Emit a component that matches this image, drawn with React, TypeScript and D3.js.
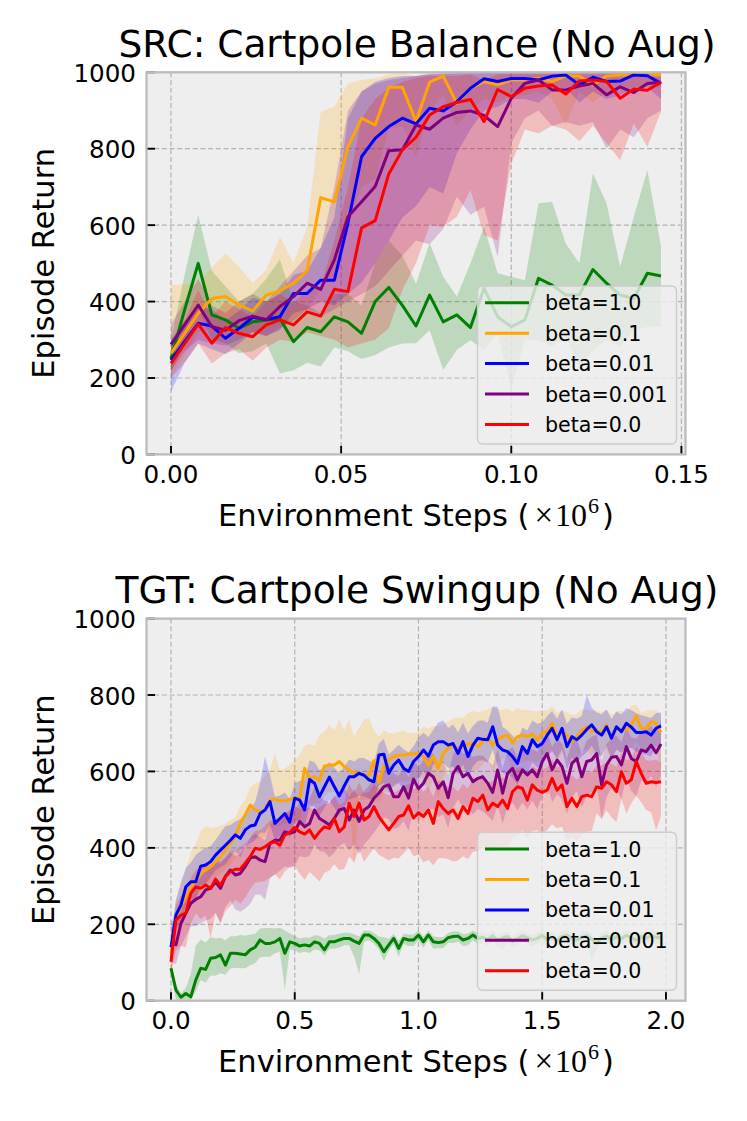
import React from 'react';
import * as d3 from 'd3';

// ---------- series meta ----------
const LABELS = ['beta=1.0', 'beta=0.1', 'beta=0.01', 'beta=0.001', 'beta=0.0'];
const COLORS = ['green', 'orange', 'blue', 'purple', 'red'];

// ---------- SRC: Cartpole Balance (eval every 0.004 x10^6 steps) ----------
const SRC_EVAL_EVERY = 0.004;
const SRC_MEAN_G = [251,378,500,365,352,330,347,352,356,295,332,321,360,347,317,400,437,390,336,417,347,365,332,435,360,334,352,461,443,417,417,484,448,417,408,474,467];
const SRC_LO_G = [215,290,380,300,290,265,270,290,212,220,240,230,280,270,250,260,280,290,291,325,221,273,299,273,317,168,299,299,282,308,229,273,299,282,325,334,334];
const SRC_HI_G = [300,470,627,480,440,400,420,460,510,400,390,370,420,420,390,500,560,520,447,553,465,413,500,596,474,465,456,657,661,552,500,736,657,491,622,744,544];

const SRC_MEAN_O = [264,317,369,408,413,391,375,417,428,448,480,672,661,805,880,862,961,961,871,974,990,919,958,976,967,980,980,984,976,990,990,967,990,993,993,993,993];
const SRC_LO_O = [200,260,320,330,330,320,320,330,340,350,380,430,470,600,700,720,850,860,780,900,940,860,900,930,920,940,940,950,930,862,950,920,950,960,960,960,960];
const SRC_HI_O = [443,446,448,490,526,491,448,483,570,500,596,897,910,971,980,984,995,998,990,1000,1000,995,998,1000,1000,1000,1000,1000,1000,1000,1000,1000,1000,1000,1000,1000,1000];

const SRC_MEAN_B = [247,295,343,336,304,330,359,353,360,421,421,456,456,605,779,827,858,880,865,906,899,923,958,983,976,984,984,980,990,993,967,987,976,977,993,991,971];
const SRC_LO_B = [164,240,290,275,262,290,320,310,325,370,380,400,390,420,450,500,560,620,650,700,683,788,850,900,910,930,930,920,950,960,920,950,930,940,960,960,930];
const SRC_HI_B = [300,350,385,380,350,375,410,400,420,470,480,540,620,880,950,975,985,990,990,995,995,998,1000,1000,1000,1000,1000,1000,1000,1000,1000,1000,1000,1000,1000,1000,1000];

const SRC_MEAN_P = [288,339,391,334,325,350,362,352,387,413,448,432,509,622,661,701,795,797,862,851,880,895,899,887,858,932,971,980,954,954,964,971,941,962,947,971,974];
const SRC_LO_P = [220,270,300,290,285,300,320,310,330,350,380,360,380,400,420,440,480,520,560,550,590,674,627,648,517,814,880,900,860,870,860,870,800,850,830,880,900];
const SRC_HI_P = [340,400,460,390,370,400,420,400,440,480,520,540,700,900,950,970,980,985,990,995,998,998,998,998,998,998,998,998,998,998,998,998,998,998,998,998,998];

const SRC_MEAN_R = [238,290,341,291,332,317,308,339,352,339,373,362,432,426,593,612,734,797,830,888,910,921,929,871,955,936,958,964,967,943,977,980,976,932,956,953,974];
const SRC_LO_R = [200,240,290,238,265,275,245,280,300,295,320,310,300,280,290,300,330,430,500,600,596,622,692,574,560,760,850,840,860,850,820,860,814,770,866,805,897];
const SRC_HI_R = [290,350,430,360,400,380,360,400,420,395,430,440,560,700,880,930,960,975,985,990,990,990,995,980,995,995,995,995,995,995,995,995,995,995,995,995,995];

// ---------- TGT: Cartpole Swingup (eval every 0.02 x10^6 steps) ----------
const TGT_EVAL_EVERY = 0.02;
const TGT_MEAN_G = [85,28,9,19,10,54,85,82,111,113,120,93,124,124,122,120,133,140,159,150,150,154,163,124,154,150,143,146,143,154,150,133,154,154,159,163,163,156,150,172,172,163,150,128,146,163,137,163,159,159,172,
  154,172,154,152,154,165,168,169,159,163,172,163,
  166,160,170,158,164,168,155,162,170,165,159,163,171,160,166,157,168,172,163,158,166,170,161,150,164,169,160,167,162,171,165,158,168,163,170,166,164];
const TGT_HI_G = [15,15,10,15,60,90,75,70,55,50,45,65,45,45,50,50,40,35,30,40,40,35,28,60,22,20,20,20,22,18,20,30,18,18,16,15,15,18,18,12,12,14,18,38,16,12,20,12,14,14,12,
  14,12,15,14,13,12,14,12,15,13,12,14,12,13,15,12,14,13,12,15,14,12,13,15,12,14,13,12,15,14,12,13,15,12,14,13,12,15,14,12,13,15,12,14,13,12,15,14,12];
const TGT_LO_G = [20,25,9,15,8,30,31,35,45,48,48,25,40,38,37,35,40,42,45,35,35,30,35,95,20,18,18,18,18,20,18,15,18,18,20,18,18,40,80,18,14,14,16,25,14,15,22,14,16,16,14,
  16,14,18,15,16,14,17,15,16,18,14,16,15,17,14,16,30,15,17,14,16,15,18,14,16,15,17,14,16,18,14,16,15,17,60,16,15,18,14,16,15,17,14,16,18,15,14,16,17];

const TGT_MEAN_O = [124,211,246,272,298,311,333,342,351,364,377,394,412,429,464,486,512,499,494,499,525,527,523,523,527,530,530,608,582,586,576,614,617,617,626,613,604,595,595,590,590,628,571,613,630,639,643,643,645,646,647,
  639,617,639,608,647,661,669,656,665,673,673,665,678,687,669,683,691,695,675,691,695,691,698,683,700,704,726,689,704,695,678,691,707,717,704,709,700,722,687,713,709,709,722,745,713,713,730,726,702];
const TGT_HI_O = [40,50,60,70,90,100,110,115,100,90,80,70,60,50,45,40,45,70,80,90,80,120,80,85,90,100,115,60,90,80,120,90,105,90,110,95,131,96,120,145,150,80,120,95,70,60,60,65,55,55,55,
  80,95,80,110,75,70,70,85,75,80,85,90,80,75,100,80,70,70,80,75,65,70,60,75,60,55,45,65,55,60,70,60,55,45,55,50,55,40,60,45,50,45,50,30,40,45,30,35,45];
const TGT_LO_O = [30,40,40,40,40,40,45,40,40,40,45,50,55,55,60,70,80,75,70,70,75,70,65,60,60,65,60,90,70,70,60,80,70,70,75,70,70,244,70,65,60,100,50,70,75,75,70,70,70,70,60,
  60,70,60,80,60,60,55,65,60,70,70,60,60,55,70,60,60,55,80,70,70,65,70,60,60,65,70,60,55,60,70,60,55,60,60,55,60,65,60,55,60,55,60,70,55,60,55,60,100];

const TGT_MEAN_B = [140,224,250,298,311,311,352,355,364,381,394,407,420,434,425,447,457,460,490,499,521,464,477,490,467,530,525,499,579,569,534,560,585,560,536,562,586,586,595,590,578,573,643,645,595,617,630,608,600,626,639,
  656,640,669,678,678,669,673,647,678,639,669,687,684,683,717,669,656,652,639,621,665,647,683,665,673,695,713,683,713,665,691,683,695,710,722,704,695,717,687,717,704,726,716,702,702,704,695,713,719];
const TGT_HI_B = [40,40,60,50,50,70,40,45,40,40,45,50,40,35,50,40,45,60,80,140,70,70,60,55,60,40,50,80,50,55,70,50,40,50,60,50,45,40,40,45,50,50,30,40,50,40,40,50,50,40,50,
  45,50,40,50,55,45,50,55,50,60,50,45,50,45,53,100,60,55,55,60,50,60,50,60,55,50,45,55,50,60,50,55,50,90,45,50,55,45,50,40,45,40,45,50,45,40,45,40,35];
const TGT_LO_B = [40,40,40,50,45,50,50,50,40,40,45,50,45,40,50,45,45,40,50,60,60,45,45,50,40,60,55,45,70,60,50,55,60,55,50,55,60,55,60,55,50,50,80,75,50,55,60,55,50,60,60,
  55,60,50,55,55,60,60,55,60,60,55,60,55,60,60,55,60,60,55,55,60,55,60,55,60,55,60,50,55,60,55,60,55,60,55,60,55,50,55,60,55,60,55,50,55,60,55,50,55];

const TGT_MEAN_P = [150,146,202,229,255,265,272,290,294,311,294,325,342,329,333,351,373,377,368,364,412,420,420,442,438,442,469,455,464,499,477,469,460,477,499,503,473,499,469,499,508,530,543,560,565,534,534,560,530,580,555,
  569,595,586,556,573,531,595,613,586,595,573,582,586,569,545,604,543,595,608,578,604,591,604,586,626,647,604,630,613,569,621,634,586,626,630,647,565,617,637,639,617,665,634,626,656,652,669,649,672];
const TGT_HI_P = [60,60,50,50,50,45,50,55,60,60,70,50,45,50,50,50,55,60,60,55,50,50,55,50,55,60,50,60,65,60,60,55,60,55,50,55,60,55,60,50,55,50,45,50,55,60,55,50,55,50,55,
  60,55,60,65,55,60,50,55,60,55,65,60,55,60,70,55,65,60,55,60,55,60,55,65,50,55,60,55,60,65,55,50,60,55,60,50,65,55,50,55,60,50,55,60,50,55,50,55,60];
const TGT_LO_P = [50,50,60,60,60,70,70,80,80,80,90,80,80,90,100,110,120,100,90,100,90,90,80,90,90,90,90,80,85,90,85,80,85,90,95,90,80,90,85,90,85,90,85,80,90,85,80,90,85,80,85,
  80,90,85,75,85,80,90,85,80,90,85,80,90,85,75,90,80,85,90,80,85,90,80,85,90,80,85,90,85,80,90,85,80,90,85,80,90,85,80,85,90,80,85,90,80,85,80,90,85];

const TGT_MEAN_R = [102,211,224,229,281,298,294,303,294,318,303,325,338,344,344,360,377,399,396,403,412,416,407,434,440,454,442,436,447,425,442,455,451,477,442,455,517,482,517,473,482,508,482,464,447,464,482,486,510,478,492,
  482,499,464,521,503,490,499,477,508,490,530,521,538,499,517,508,525,503,547,560,556,525,565,551,545,551,582,551,565,508,530,508,534,538,534,560,556,573,565,547,599,569,578,626,595,569,573,571,573];
const TGT_HI_R = [30,40,50,50,40,45,50,60,55,50,55,50,55,50,60,55,50,45,50,55,60,55,60,55,60,55,60,65,60,70,65,60,65,60,70,65,50,60,55,70,65,60,70,80,90,80,70,70,60,75,70,
  65,60,70,55,65,70,60,70,60,65,55,60,55,70,60,65,60,70,55,50,55,60,50,55,60,60,50,60,55,70,60,70,60,60,65,55,60,50,55,65,50,60,55,40,55,60,55,60,50];
const TGT_LO_R = [30,80,80,90,80,70,80,80,130,90,100,90,90,80,90,90,85,90,85,90,90,85,90,95,90,100,110,120,110,100,130,120,110,120,100,110,140,120,120,110,100,110,100,90,80,90,110,100,110,100,110,
  120,130,110,148,130,120,135,110,130,120,140,130,135,110,125,115,120,110,120,130,110,100,120,105,110,104,120,100,110,90,100,90,100,95,90,70,80,75,85,80,70,80,61,90,75,70,80,125,90];

const Y_TICKS = [0, 200, 400, 600, 800, 1000];
const SRC_X_TICKS = [0, 0.05, 0.1, 0.15];
const TGT_X_TICKS = [0, 0.5, 1.0, 1.5, 2.0];

// ---------- layout ----------
const W = 747;
const H = 1121;
const LEFT = 146.5;
const RIGHT = 685.5;
const FONT = "'DejaVu Sans', 'Noto Sans', sans-serif";
const SERIF = "'Liberation Serif', 'DejaVu Serif', serif";

interface PanelProps {
  id: string;
  top: number;
  bottom: number;
  title: string;
  step: number;
  means: number[][];
  lows: number[][];
  highs: number[][];
  xTicks: number[];
  xFmt: (v: number) => string;
}

function Panel(p: PanelProps) {
  const n = p.means[0].length;
  const steps = d3.range(n).map((i) => i * p.step);
  const xMin = d3.min(steps) as number;
  const xMax = d3.max(steps) as number;
  const pad = (xMax - xMin) * 0.05;
  const x = d3.scaleLinear().domain([xMin - pad, xMax + pad]).range([LEFT, RIGHT]);
  const y = d3.scaleLinear().domain([0, 1000]).range([p.bottom, p.top]);
  const idx = d3.range(n);

  const line = (m: number[]) =>
    d3.line<number>().x((i) => x(steps[i])).y((i) => y(m[i]))(idx) || '';
  const area = (lo: number[], hi: number[]) =>
    d3.area<number>().x((i) => x(steps[i])).y0((i) => y(lo[i])).y1((i) => y(hi[i]))(idx) || '';

  const clipId = `clip-${p.id}`;
  const midX = (LEFT + RIGHT) / 2;
  const midY = (p.top + p.bottom) / 2;

  // legend geometry
  const legW = 199;
  const legH = 158;
  const legX = RIGHT - 9 - legW;
  const legY = p.bottom - 10.4 - legH;
  const rowGap = 30.4;

  return (
    <g>
      <defs>
        <clipPath id={clipId}>
          <rect x={LEFT} y={p.top} width={RIGHT - LEFT} height={p.bottom - p.top} />
        </clipPath>
      </defs>
      <rect x={LEFT} y={p.top} width={RIGHT - LEFT} height={p.bottom - p.top} fill="#eeeeee" />
      {/* grid */}
      <g stroke="#b2b2b2" strokeWidth={1.2} strokeDasharray="5,2.7">
        {p.xTicks.map((t) => (
          <line key={`gx${t}`} x1={x(t)} x2={x(t)} y1={p.top} y2={p.bottom} />
        ))}
        {Y_TICKS.map((t) => (
          <line key={`gy${t}`} x1={LEFT} x2={RIGHT} y1={y(t)} y2={y(t)} />
        ))}
      </g>
      <g clipPath={`url(#${clipId})`}>
        {p.means.map((m, k) => (
          <path key={`f${k}`} d={area(p.lows[k], p.highs[k])} fill={COLORS[k]} fillOpacity={0.2} stroke="none" />
        ))}
        {p.means.map((m, k) => (
          <path key={`l${k}`} d={line(m)} fill="none" stroke={COLORS[k]} strokeWidth={3} strokeLinejoin="round" />
        ))}
      </g>
      {/* ticks (inward) */}
      <g stroke="#000" strokeWidth={1.9}>
        {p.xTicks.map((t) => (
          <line key={`tx${t}`} x1={x(t)} x2={x(t)} y1={p.bottom} y2={p.bottom - 8.5} />
        ))}
        {Y_TICKS.map((t) => (
          <line key={`ty${t}`} x1={LEFT} x2={LEFT + 8.5} y1={y(t)} y2={y(t)} />
        ))}
      </g>
      {/* spines */}
      <rect x={LEFT} y={p.top} width={RIGHT - LEFT} height={p.bottom - p.top} fill="none" stroke="#bcbcbc" strokeWidth={2.3} />
      {/* tick labels */}
      <g fontFamily={FONT} fontSize={24.6} fill="#000">
        {p.xTicks.map((t) => (
          <text key={`lx${t}`} x={x(t)} y={p.bottom + 28.3} textAnchor="middle">{p.xFmt(t)}</text>
        ))}
        {Y_TICKS.map((t) => (
          <text key={`ly${t}`} x={136} y={y(t) + 9.5} textAnchor="end">{t}</text>
        ))}
      </g>
      {/* title */}
      <text x={midX + 1} y={p.top - 15.5} textAnchor="middle" fontFamily={FONT} fontSize={37.5}>{p.title}</text>
      {/* axis labels */}
      <text transform={`translate(53.5,${midY}) rotate(-90)`} textAnchor="middle" fontFamily={FONT} fontSize={30.5}>Episode Return</text>
      <text x={midX} y={p.bottom + 71.3} textAnchor="middle" fontFamily={FONT} fontSize={30.5}>
        Environment Steps (
        <tspan fontFamily={SERIF} fontSize={33} dx={5}>×</tspan>
        <tspan fontFamily={SERIF} fontSize={32} dx={2}>10</tspan>
        <tspan fontFamily={SERIF} fontSize={22} dy={-13} dx={1}>6</tspan>
        <tspan dy={13} dx={3}>)</tspan>
      </text>
      {/* legend */}
      <rect x={legX} y={legY} width={legW} height={legH} rx={5} ry={5} fill="#eeeeee" fillOpacity={0.8} stroke="#cccccc" strokeWidth={1.4} />
      {LABELS.map((lab, k) => {
        const cy = legY + 16.8 + k * rowGap;
        return (
          <g key={`lg${k}`}>
            <line x1={legX + 7.5} x2={legX + 51.5} y1={cy} y2={cy} stroke={COLORS[k]} strokeWidth={3} />
            <text x={legX + 67.5} y={cy + 7.5} fontFamily={FONT} fontSize={20.6}>{lab}</text>
          </g>
        );
      })}
    </g>
  );
}

export default function App() {
  const tgtMeans = [TGT_MEAN_G, TGT_MEAN_O, TGT_MEAN_B, TGT_MEAN_P, TGT_MEAN_R];
  const tgtLo = [TGT_LO_G, TGT_LO_O, TGT_LO_B, TGT_LO_P, TGT_LO_R];
  const tgtHi = [TGT_HI_G, TGT_HI_O, TGT_HI_B, TGT_HI_P, TGT_HI_R];
  return (
    <svg width={W} height={H} style={{ position: 'absolute', left: 0, top: 0 }} xmlns="http://www.w3.org/2000/svg">
      <rect x={0} y={0} width={W} height={H} fill="#ffffff" />
      <Panel
        id="src"
        top={72.3}
        bottom={454.4}
        title="SRC: Cartpole Balance (No Aug)"
        step={SRC_EVAL_EVERY}
        means={[SRC_MEAN_G, SRC_MEAN_O, SRC_MEAN_B, SRC_MEAN_P, SRC_MEAN_R]}
        lows={[SRC_LO_G, SRC_LO_O, SRC_LO_B, SRC_LO_P, SRC_LO_R]}
        highs={[SRC_HI_G, SRC_HI_O, SRC_HI_B, SRC_HI_P, SRC_HI_R]}
        xTicks={SRC_X_TICKS}
        xFmt={(v) => v.toFixed(2)}
      />
      <Panel
        id="tgt"
        top={618.6}
        bottom={1000.7}
        title="TGT: Cartpole Swingup (No Aug)"
        step={TGT_EVAL_EVERY}
        means={tgtMeans}
        lows={tgtMeans.map((m, k) => m.map((v, i) => v - tgtLo[k][i]))}
        highs={tgtMeans.map((m, k) => m.map((v, i) => v + tgtHi[k][i]))}
        xTicks={TGT_X_TICKS}
        xFmt={(v) => v.toFixed(1)}
      />
    </svg>
  );
}
